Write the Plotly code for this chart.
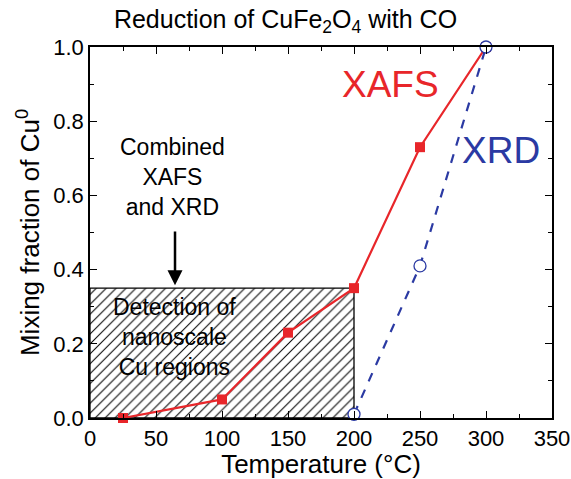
import plotly.graph_objects as go

xafs_t = [25, 100, 150, 200, 250, 300]
xafs_f = [0.0, 0.05, 0.23, 0.35, 0.73, 1.0]
xrd_t = [200, 250, 300]
xrd_f = [0.01, 0.41, 1.0]
box_t = [0, 200, 200, 0, 0]
box_f = [0, 0, 0.35, 0.35, 0]

RED = "#e8262a"
BLUE = "#2b3aa3"
FONT = "Liberation Sans, Arial, sans-serif"

fig = go.Figure()
fig.add_trace(go.Scatter(x=box_t, y=box_f, mode="lines", fill="toself",
                         fillcolor="white",
                         fillpattern=dict(shape="/", fgcolor="black", bgcolor="white",
                                          fgopacity=1, size=7, solidity=0.15),
                         line=dict(color="black", width=1.3), hoverinfo="skip",
                         showlegend=False))
fig.add_trace(go.Scatter(x=xafs_t, y=xafs_f, mode="lines+markers",
                         line=dict(color=RED, width=2.2),
                         marker=dict(symbol="square", size=10, color=RED),
                         showlegend=False, cliponaxis=False))
fig.add_trace(go.Scatter(x=xrd_t, y=xrd_f, mode="lines+markers",
                         line=dict(color=BLUE, width=2.2, dash="dash"),
                         marker=dict(symbol="circle", size=12, color="white",
                                     line=dict(width=1.3, color=BLUE)),
                         showlegend=False, cliponaxis=False))

fig.add_annotation(x=228, y=0.90, text="XAFS", showarrow=False,
                   font=dict(size=37, color=RED, family=FONT))
fig.add_annotation(x=311, y=0.722, text="XRD", showarrow=False,
                   font=dict(size=37, color=BLUE, family=FONT))
fig.add_annotation(x=62.5, y=0.65, text="Combined<br>XAFS<br>and XRD", showarrow=False,
                   font=dict(size=23, color="black", family=FONT), align="center")
fig.add_annotation(x=64.4, y=0.358, ax=64.4, ay=0.507, xref="x", yref="y", axref="x", ayref="y",
                   text="", showarrow=True, arrowhead=2, arrowsize=1.2, arrowwidth=2.5,
                   arrowcolor="black")
fig.add_annotation(x=64, y=0.218, text="Detection of<br>nanoscale<br>Cu regions", showarrow=False,
                   font=dict(size=23, color="black", family=FONT), align="center")

axis_common = dict(showgrid=False, zeroline=False, showline=True, linecolor="black",
                   linewidth=1.5, mirror="allticks", ticks="inside", ticklen=7,
                   tickwidth=1.3, tickcolor="black", ticklabeloverflow="allow",
                   tickfont=dict(size=22, color="black", family=FONT))

fig.update_xaxes(range=[0, 350], tick0=0, dtick=50, automargin=False,
                 minor=dict(ticks="inside", ticklen=4, dtick=25, tickcolor="black", tickwidth=1.3),
                 title=dict(text="Temperature (°C)", font=dict(size=26, color="black", family=FONT),
                            standoff=4),
                 **axis_common)
fig.update_yaxes(range=[0, 1.0], tick0=0, dtick=0.2, tickformat=".1f", automargin=False,
                 minor=dict(ticks="inside", ticklen=4, dtick=0.1, tickcolor="black", tickwidth=1.3),
                 title=dict(text="Mixing fraction of Cu<sup>0</sup>",
                            font=dict(size=26, color="black", family=FONT), standoff=6),
                 **axis_common)

fig.update_layout(
    width=571, height=479,
    margin=dict(l=90, r=19, t=47, b=61),
    paper_bgcolor="white", plot_bgcolor="white",
    title=dict(text="Reduction of CuFe<sub>2</sub>O<sub>4</sub> with CO",
               x=0.5, xanchor="center", y=0.979, yanchor="top",
               font=dict(size=25, color="black", family=FONT)),
)

fig.write_html("out.html", config={"displayModeBar": False},
               post_script="document.body.style.margin='0';document.body.style.overflow='hidden';")
